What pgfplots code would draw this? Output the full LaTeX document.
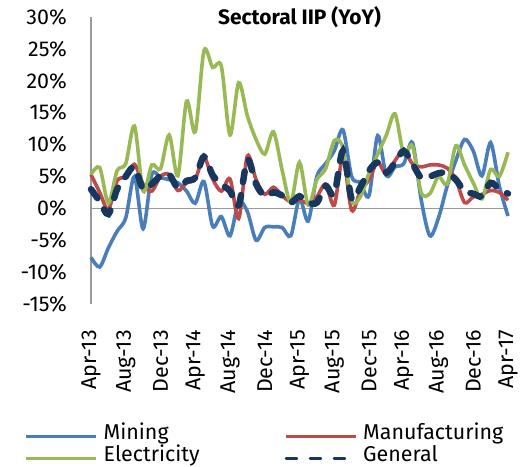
\documentclass[border=0pt]{standalone}
\usepackage{fontspec}
\setmainfont{Fira Sans}
\usepackage{pgfplots}
\usepackage{pgfplotstable}
\pgfplotsset{compat=1.18}
\definecolor{cmin}{HTML}{4A7EBB}
\definecolor{cman}{HTML}{BE4B48}
\definecolor{cele}{HTML}{98B954}
\definecolor{cgen}{HTML}{17375E}
\pgfplotstableread{
i  min   man  ele   gen
0  -7.7  5.3  5.3  3.0
1  -9.2  2.5  6.4  1.1
2  -6.2  -0.2 0.8  -0.9
3  -3.6  4.3  5.9  3.0
4  -1.5  5.0  7.0  5.0
5  5.0   6.9  12.9 6.5
6  -3.2  3.8  2.7  3.0
7  5.3   2.7  6.8  3.8
8  4.8   5.0  6.2  5.1
9  4.5   5.3  11.5 5.3
10 4.0   2.8  5.1  3.2
11 2.7   4.0  16.8 4.3
12 0.8   4.6  12.0 4.8
13 4.2   8.0  24.7 8.1
14 -2.8  4.6  22.1 5.2
15 -1.3  2.7  22.3 3.8
16 -4.3  4.6  11.5 2.7
17 1.0   -1.6 19.7 0.5
18 -0.5  8.2  14.5 7.6
19 -5.0  4.5  10.8 3.8
20 -3.0  2.2  8.5  1.9
21 -2.9  3.3  12.0 2.5
22 -3.0  2.0  6.0  2.0
23 -4.3  1.0  0.9  0.9
24 1.5   1.3  7.2  1.9
25 -2.0  0.8  0.5  0.9
26 5.0   1.8  4.5  0.9
27 7.0   3.8  6.2  3.5
28 9.0   0.5  10.6 2.2
29 12.3  8.0  9.5  9.0
30 5.0   -0.3 1.2  1.5
31 4.0   2.7  1.8  3.3
32 2.0   4.5  5.5  5.9
33 11.4  7.2  8.5  7.2
34 5.1   5.3  11.5 5.6
35 6.5   7.5  14.8 7.2
36 7.0   9.0  8.5  9.0
37 10.3  7.0  9.8  7.0
38 1.4   6.5  2.5  4.8
39 -4.3  6.8  2.3  5.0
40 -1.5  6.8  5.0  5.5
41 3.5   6.3  3.8  5.6
42 7.5   4.5  9.8  4.5
43 10.8  0.9  6.8  2.7
44 9.0   1.8  4.0  2.3
45 5.1   2.2  1.5  1.9
46 10.3  2.8  6.1  4.0
47 3.5   2.5  5.0  3.0
48 -1.2  1.3  8.8  2.3
}\data
\begin{document}
\begin{tikzpicture}
\begin{axis}[
  name=ax,
  scale only axis,
  width=417bp, height=287bp,
  xmin=0, xmax=48, ymin=-15, ymax=30,
  axis x line*=bottom, axis y line*=left,
  x axis line style={draw=none},
  y axis line style={draw=black!40, line width=1.3bp},
  major tick length=0pt,
  xtick={0,4,...,48},
  xticklabels={Apr-13,Aug-13,Dec-13,Apr-14,Aug-14,Dec-14,Apr-15,Aug-15,Dec-15,Apr-16,Aug-16,Dec-16,Apr-17},
  ytick={-15,-10,...,30},
  yticklabels={-15\%,-10\%,-5\%,0\%,5\%,10\%,15\%,20\%,25\%,30\%},
  extra y ticks={0},
  extra y tick labels={},
  extra y tick style={grid=major, major grid style={draw=black!40, line width=1.3bp}},
  tick label style={font=\fontsize{21.5}{24}\selectfont, inner sep=0pt},
  xticklabel style={rotate=90, anchor=east},
  xticklabel shift=26bp,
  yticklabel shift=24bp,
  title={Sectoral IIP (YoY)},
  title style={at={(0.5,1)}, anchor=north, yshift=5bp, inner sep=0pt, font=\bfseries\fontsize{21}{24}\selectfont},
  legend columns=2,
  legend style={draw=none, fill=none, inner sep=0pt, at={(-0.1583,-0.4233)}, anchor=north west,
    font=\fontsize{21.5}{24}\selectfont, row sep=0pt,
    nodes={inner sep=0pt, text height=14bp, text depth=8bp, text width=170bp},
    /tikz/every odd column/.append style={column sep=6bp},
    /tikz/every even column/.append style={column sep=11bp}},
  legend image code/.code={\draw[line width=2.5bp] (0bp,0bp) -- (70bp,0bp);},
  clip=false,
]
\addplot[cmin, line width=3.6bp, smooth] table[x=i, y=min] {\data};
\addlegendentry{Mining}
\addplot[cman, line width=3.6bp, smooth] table[x=i, y=man] {\data};
\addlegendentry{Manufacturing}
\addplot[cele, line width=3.6bp, smooth] table[x=i, y=ele] {\data};
\addlegendentry{Electricity}
\addplot[cgen, line width=6.5bp, smooth, line cap=round, dash pattern=on 11bp off 13bp] table[x=i, y=gen] {\data};
\addlegendentry{General}
\end{axis}
\pgfresetboundingbox
\path[use as bounding box] ([shift={(-91bp,-162bp)}]ax.south west) rectangle ([shift={(19bp,17bp)}]ax.north east);
\end{tikzpicture}
\end{document}
